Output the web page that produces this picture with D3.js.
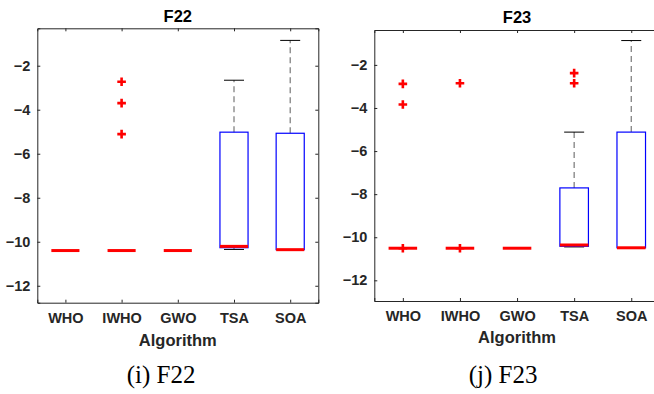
<!DOCTYPE html>
<html>
<head>
<meta charset="utf-8">
<script src="https://cdn.jsdelivr.net/npm/d3@7"></script>
<style>
  body { margin: 0; background: #fff; }
  svg { display: block; }
  .bp-tick text { font-family: "Liberation Sans", Arial, sans-serif; font-weight: bold; font-size: 14.5px; fill: #262626; }
  .bp-title { font-family: "Liberation Sans", Arial, sans-serif; font-weight: bold; font-size: 16.5px; fill: #000; }
  .bp-xlabel { font-family: "Liberation Sans", Arial, sans-serif; font-weight: bold; font-size: 16.5px; fill: #262626; }
  .bp-caption { font-family: "Liberation Serif", "Times New Roman", serif; font-size: 25px; fill: #000; }
</style>
</head>
<body>
<svg id="chart"></svg>
<script>
// categories and tick labels
const algorithms = ["WHO", "IWHO", "GWO", "TSA", "SOA"];
const yTicks = [-12, -10, -8, -6, -4, -2];

// F22 box statistics
const f22Low    = [-10.40, -10.40, -10.40, -10.35, -10.36];
const f22Q1     = [-10.40, -10.40, -10.40, -10.27, -10.36];
const f22Median = [-10.40, -10.40, -10.40, -10.21, -10.36];
const f22Q3     = [-10.40, -10.40, -10.40, -5.02, -5.07];
const f22High   = [-10.40, -10.40, -10.40, -2.66, -0.85];
const f22Outliers = [[], [-2.73, -3.70, -5.11], [], [], []];

// F23 box statistics
const f23Low    = [-10.51, -10.51, -10.51, -10.45, -10.49];
const f23Q1     = [-10.51, -10.51, -10.51, -10.42, -10.49];
const f23Median = [-10.51, -10.51, -10.51, -10.36, -10.49];
const f23Q3     = [-10.51, -10.51, -10.51, -7.71, -5.12];
const f23High   = [-10.51, -10.51, -10.51, -5.12, -0.87];
const f23Outliers = [[-2.88, -3.84, -10.51], [-2.85, -10.51], [], [-2.38, -2.85], []];

const panels = [
  { title: "F22", caption: "(i) F22", yDomain: [-12.77, -0.30],
    left: 37.3, right: 318.3, top: 28.3, bottom: 302.7,
    low: f22Low, q1: f22Q1, med: f22Median, q3: f22Q3, high: f22High, out: f22Outliers,
    titleY: 22, tickY: 324, labelY: 346, captionX: 161, captionY: 383 },
  { title: "F23", caption: "(j) F23", yDomain: [-12.96, -0.38],
    left: 374.3, right: 659.8, top: 30, bottom: 301,
    low: f23Low, q1: f23Q1, med: f23Median, q3: f23Q3, high: f23High, out: f23Outliers,
    titleY: 23, tickY: 322, labelY: 343, captionX: 503, captionY: 383 },
];

const svg = d3.select("#chart").attr("width", 654).attr("height", 394);
svg.append("rect").attr("width", 654).attr("height", 394).attr("fill", "#fff");

const AXIS = "#262626";

function drawPanel(p) {
  const g = svg.append("g");
  const x = d3.scaleLinear().domain([0.5, algorithms.length + 0.5]).range([p.left, p.right]);
  const y = d3.scaleLinear().domain(p.yDomain).range([p.bottom, p.top]);
  const idx = algorithms.map((_, i) => i + 1);

  // box outline (top and right without labels)
  g.append("g").attr("transform", `translate(0,${p.top})`)
    .call(d3.axisTop(x).tickValues(idx).tickSize(-3).tickFormat(""));
  g.append("g").attr("transform", `translate(${p.right},0)`)
    .call(d3.axisRight(y).tickValues(yTicks).tickSize(-3).tickFormat(""));

  const ax = g.append("g").attr("class", "bp-tick").attr("transform", `translate(0,${p.bottom})`)
    .call(d3.axisBottom(x).tickValues(idx).tickSize(-3).tickPadding(p.tickY - p.bottom - 11)
      .tickFormat((d) => algorithms[d - 1]));
  g.append("g").attr("class", "bp-tick").attr("transform", `translate(${p.left},0)`)
    .call(d3.axisLeft(y).tickValues(yTicks).tickSize(-3).tickPadding(7));

  g.selectAll(".domain").attr("stroke", AXIS).attr("stroke-width", 1);
  g.selectAll(".tick line").attr("stroke", AXIS);
  ax.selectAll("text").attr("dy", "0.71em");

  const bw = x(1.25) - x(0.75);
  const cw = 20;

  algorithms.forEach((name, i) => {
    const cx = x(i + 1);
    // whiskers
    g.append("line").attr("x1", cx).attr("x2", cx).attr("y1", y(p.q3[i])).attr("y2", y(p.high[i]))
      .attr("stroke", "#777").attr("stroke-width", 1.2).attr("stroke-dasharray", "6,4");
    g.append("line").attr("x1", cx).attr("x2", cx).attr("y1", y(p.q1[i])).attr("y2", y(p.low[i]))
      .attr("stroke", "#777").attr("stroke-width", 1.2).attr("stroke-dasharray", "6,4");
    // caps
    [p.high[i], p.low[i]].forEach((v) => {
      g.append("line").attr("x1", cx - cw / 2).attr("x2", cx + cw / 2).attr("y1", y(v)).attr("y2", y(v))
        .attr("stroke", "#000").attr("stroke-width", 1);
    });
    // box
    g.append("rect").attr("x", cx - bw / 2).attr("y", y(p.q3[i]))
      .attr("width", bw).attr("height", Math.max(0, y(p.q1[i]) - y(p.q3[i])))
      .attr("fill", "none").attr("stroke", "#0000ff").attr("stroke-width", 1.2);
    // median
    g.append("line").attr("x1", cx - bw / 2).attr("x2", cx + bw / 2)
      .attr("y1", y(p.med[i])).attr("y2", y(p.med[i]))
      .attr("stroke", "#ff0000").attr("stroke-width", 3);
    // outliers
    p.out[i].forEach((v) => {
      const oy = y(v), s = 4.3;
      g.append("path").attr("d", `M${cx - s},${oy}H${cx + s}M${cx},${oy - s}V${oy + s}`)
        .attr("stroke", "#ff0000").attr("stroke-width", 2.6).attr("fill", "none");
    });
  });

  g.append("text").attr("class", "bp-title").attr("x", (p.left + p.right) / 2).attr("y", p.titleY)
    .attr("text-anchor", "middle").text(p.title);
  g.append("text").attr("class", "bp-xlabel").attr("x", (p.left + p.right) / 2).attr("y", p.labelY)
    .attr("text-anchor", "middle").text("Algorithm");
  svg.append("text").attr("class", "bp-caption").attr("x", p.captionX).attr("y", p.captionY)
    .attr("text-anchor", "middle").text(p.caption);
}

panels.forEach(drawPanel);
</script>
</body>
</html>
